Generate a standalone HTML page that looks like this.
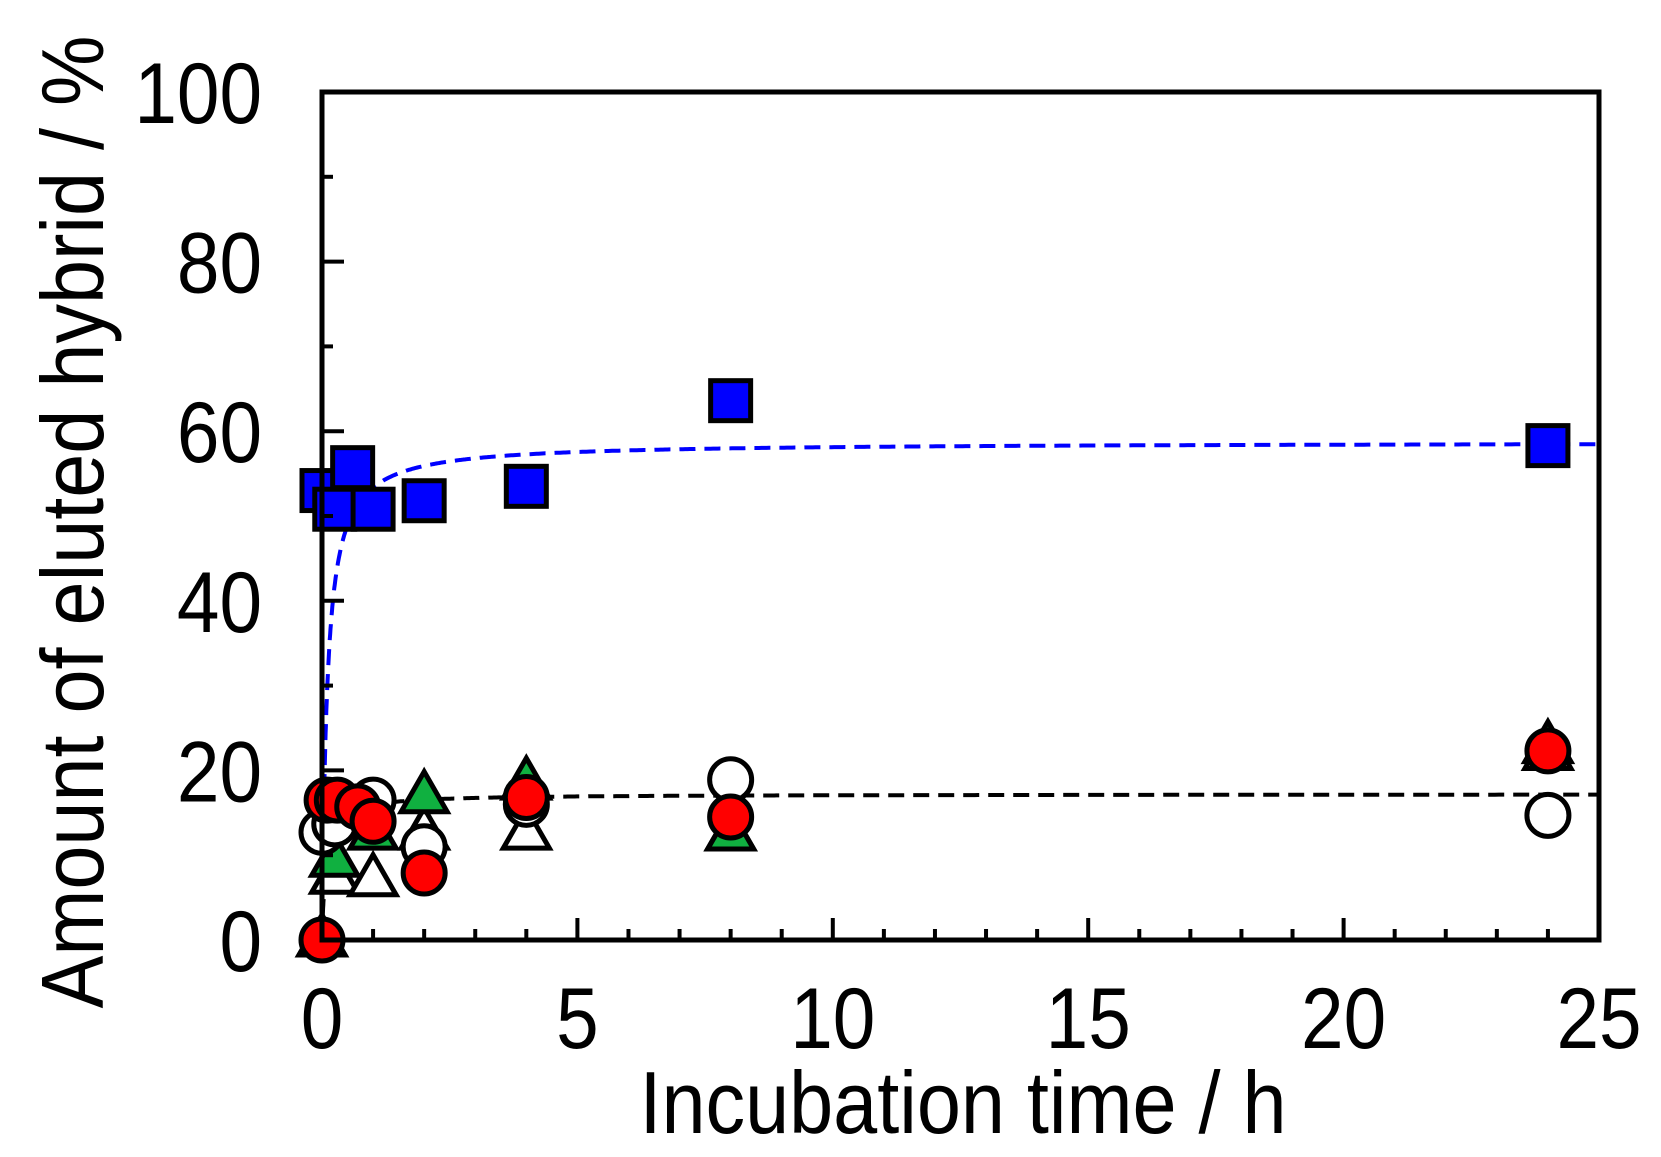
<!DOCTYPE html>
<html><head><meta charset="utf-8"><style>
html,body{margin:0;padding:0;background:#fff;}
svg{display:block;font-family:"Liberation Sans",Arial,sans-serif;}
</style></head><body>
<svg id="chart" width="1661" height="1157" viewBox="0 0 1661 1157" xmlns="http://www.w3.org/2000/svg">
<g id="fits"></g>
<g id="marks"></g>
<g id="axes"></g>
<text transform="translate(963,1133) scale(0.9,1)" font-size="88" text-anchor="middle">Incubation time / h</text>
<text transform="translate(103,522) rotate(-90) scale(0.9,1)" font-size="88" text-anchor="middle">Amount of eluted hybrid / %</text>
</svg>
<script>
const xTicks=[0,5,10,15,20,25];
const yTicks=[0,20,40,60,80,100];
const timesSquare=[0,0.25,0.6,1,2,4,8,24];
const valsSquare=[53,50.8,55.7,50.8,51.8,53.5,63.6,58.3];
const timesOpenTri=[0,0.25,1,2,4,8,24];
const valsOpenTri=[0,7.4,7.1,12.6,12.6,12.5,22];
const timesGreenTri=[0,0.25,1,2,4,8,24];
const valsGreenTri=[0,9.4,12.6,16.9,18.5,12.5,22.8];
const timesOpenCirc=[0,0.25,1,2,4,8,24];
const valsOpenCirc=[12.7,13.7,16.5,11,16,18.9,14.7];
const timesRedCirc=[0,0.1,0.3,0.7,1,2,4,8,24];
const valsRedCirc=[0,16.5,16.5,15.7,14,7.9,16.8,14.5,22.3];
const fitBlue=[58.7,0.1];
const fitBlack=[17.2,0.08];

const X0=322,X1=1599,Y0=940,Y1=92;
const sx=v=>X0+(v-0)/(25-0)*(X1-X0);
const sy=v=>Y0-(v-0)/(100-0)*(Y0-Y1);
const NS='http://www.w3.org/2000/svg';
function mk(tag,parent,attrs){const e=document.createElementNS(NS,tag);for(const k in attrs)e.setAttribute(k,attrs[k]);parent.appendChild(e);return e;}
const axes=document.getElementById('axes'),marks=document.getElementById('marks'),fits=document.getElementById('fits');

function fitPath(p){let d='';for(let i=0;i<=600;i++){const t=25*Math.pow(i/600,2);const v=p[0]*t/(p[1]+t);d+=(i?'L':'M')+sx(t).toFixed(1)+','+sy(v).toFixed(1);}return d;}
const fb=mk('path',fits,{d:fitPath(fitBlue),fill:'none',stroke:'#0000ff','stroke-width':4,'stroke-dasharray':'16,9'});


const fk=mk('path',fits,{d:fitPath(fitBlack),fill:'none',stroke:'#000','stroke-width':4,'stroke-dasharray':'16,9'});



const S=20;
function tri(t,v,fill,name){const cx=sx(t),cy=sy(v);const e=mk('polygon',marks,{points:`${cx},${cy-25} ${cx-23},${cy+15} ${cx+23},${cy+15}`,fill:fill,stroke:'#000','stroke-width':5,'stroke-linejoin':'miter'});

}
function circ(t,v,fill,name){const e=mk('circle',marks,{cx:sx(t),cy:sy(v),r:21,fill:fill,stroke:'#000','stroke-width':5});

}
function sq(t,v,name){const e=mk('rect',marks,{x:sx(t)-S,y:sy(v)-S,width:2*S,height:2*S,fill:'#0000ff',stroke:'#000','stroke-width':5});

}
timesOpenTri.forEach((t,i)=>tri(t,valsOpenTri[i],'#fff','open-triangle-point'));
timesGreenTri.forEach((t,i)=>tri(t,valsGreenTri[i],'#10b040','green-triangle-point'));
timesOpenCirc.forEach((t,i)=>circ(t,valsOpenCirc[i],'#fff','open-circle-point'));
timesSquare.forEach((t,i)=>sq(t,valsSquare[i],'blue-square-point'));
timesRedCirc.forEach((t,i)=>circ(t,valsRedCirc[i],'#ff0000','red-circle-point'));

const fr=mk('rect',axes,{x:X0,y:Y1,width:X1-X0,height:Y0-Y1,fill:'none',stroke:'#000','stroke-width':5});


for(let v=0;v<=25;v++){const major=v%5===0;const l=mk('line',axes,{x1:sx(v),x2:sx(v),y1:Y0,y2:Y0-(major?22:11),stroke:'#000','stroke-width':4});

}
xTicks.forEach(v=>{const t=mk('text',axes,{transform:`translate(${sx(v)},1048) scale(0.89,1)`,'font-size':86,'text-anchor':'middle'});t.textContent=v;

});
for(let v=0;v<=100;v+=10){const major=v%20===0;const l=mk('line',axes,{x1:X0,x2:X0+(major?22:11),y1:sy(v),y2:sy(v),stroke:'#000','stroke-width':4});

}
yTicks.forEach(v=>{const t=mk('text',axes,{transform:`translate(262,${sy(v)+31}) scale(0.89,1)`,'font-size':86,'text-anchor':'end'});t.textContent=v;

});
</script>
</body></html>
